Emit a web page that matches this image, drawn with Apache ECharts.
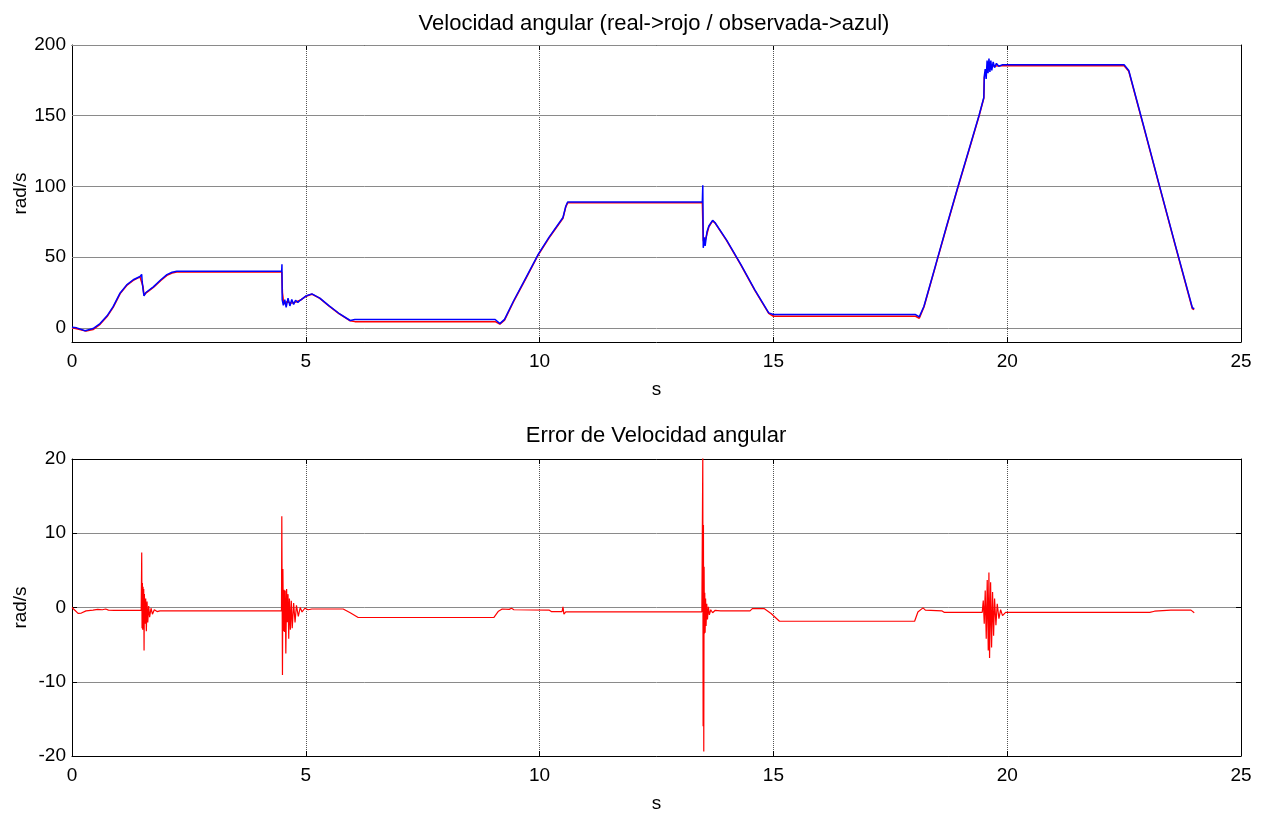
<!DOCTYPE html>
<html><head><meta charset="utf-8">
<script src="https://cdn.jsdelivr.net/npm/echarts@6/dist/echarts.min.js"></script>
<style>html,body{margin:0;padding:0;background:#fff}#c{width:1268px;height:816px}</style>
</head><body><div id="c"></div>
<script>
// ---- data ----
const timeTicks = [0, 5, 10, 15, 20, 25];
const speedTicks = [0, 50, 100, 150, 200];
const speedRange = [-10, 200];
const errorTicks = [-20, -10, 0, 10, 20];

const topTitle = 'Velocidad angular (real->rojo / observada->azul)';
const bottomTitle = 'Error de Velocidad angular';
const xName = 's';
const yName = 'rad/s';

// real angular speed (red) [t, rad/s]
const realSpeed = [
[0,0],[0.1,-0.6],[0.3,-2.3],[0.45,-1.2],[0.6,2.5],[0.75,8],[0.88,14.5],[1.03,24.2],[1.17,30],[1.31,33.6],[1.455,36],[1.49,37.3],[1.52,29],[1.54,23],[1.58,24.6],[1.74,28.6],[1.9,33.5],[2.03,37.1],[2.14,38.8],[2.24,39.5],[4.485,39.5],[4.5,25],[4.53,17],[4.6,18.5],[4.7,17.5],[4.8,18.5],[4.88,19.5],[5.0,22.3],[5.13,23.8],[5.3,20.8],[5.5,15.3],[5.7,10.3],[5.95,5],[6.05,4.4],[9.05,4.4],[9.15,2.6],[9.25,5.5],[9.44,18.3],[9.7,34.5],[9.97,51.5],[10.2,63.5],[10.5,77.5],[10.56,85.5],[10.6,88.4],[13.48,88.4],[13.5,62],[13.52,60],[13.56,64],[13.62,71.5],[13.7,75.6],[13.75,74.2],[14.0,61.7],[14.3,44.7],[14.6,26.7],[14.9,10.3],[15.0,8.2],[18.04,8.2],[18.12,6.8],[18.22,14.7],[18.47,44],[18.7,71],[18.93,97.5],[19.2,127.5],[19.4,150],[19.5,162.3],[19.51,177],[19.55,181],[19.6,184],[19.7,185.2],[19.9,185.3],[22.5,185.3],[22.6,181.4],[22.9,144.4],[23.25,100.8],[23.6,57.5],[23.96,13.5],[24.0,13]
];

// observed angular speed (blue) [t, rad/s]
const observedSpeed = [
[0,0.5],[0.1,0],[0.28,-2],[0.45,-0.5],[0.6,3],[0.75,8.5],[0.88,15],[1.03,24.7],[1.17,30.4],[1.31,34],[1.455,36.3],[1.49,37.8],[1.5,33],[1.52,27],[1.54,22.6],[1.58,25],[1.74,29],[1.9,34],[2.03,37.6],[2.14,39.3],[2.24,40],[4.485,40],[4.49,45],[4.495,20],[4.52,16],[4.55,20],[4.58,14.5],[4.62,21],[4.66,15.5],[4.7,20],[4.74,16.5],[4.78,19.5],[4.83,18],[4.88,19.5],[5.0,22.5],[5.13,24],[5.3,21],[5.5,15.5],[5.7,10.5],[5.95,5.2],[6.05,5.9],[9.05,5.9],[9.15,3],[9.25,6],[9.44,18.8],[9.7,35],[9.97,51.9],[10.2,64],[10.5,78],[10.56,86],[10.6,89],[13.48,89],[13.49,100.8],[13.5,56.6],[13.52,64],[13.54,58],[13.58,68],[13.62,72],[13.7,76],[13.75,74.5],[14.0,62],[14.3,45],[14.6,27],[14.9,10.6],[15.0,9.4],[18.04,9.4],[18.12,7.8],[18.22,15.3],[18.47,44.5],[18.7,71.5],[18.93,98],[19.2,128],[19.4,150.5],[19.5,162.9],[19.51,178],[19.53,183],[19.55,176],[19.57,189],[19.59,180],[19.61,190.5],[19.63,181],[19.65,189],[19.67,182],[19.7,188],[19.73,184],[19.77,187],[19.82,185],[19.9,186],[22.5,186],[22.6,182],[22.9,145],[23.25,101.3],[23.6,58],[23.96,14.2],[24.0,13.5]
];

// speed error (red) [t, rad/s]
const speedError = [
[0,0],[0.05,-0.3],[0.13,-0.8],[0.2,-0.75],[0.3,-0.45],[0.45,-0.35],[0.55,-0.25],[0.65,-0.3],[0.72,-0.2],[0.78,-0.35],[0.9,-0.4],[1.48,-0.4],
[1.491,7.4],[1.498,-2.8],[1.505,3.3],[1.512,-3],[1.52,2.8],[1.527,-2.5],[1.534,2.5],[1.541,-5.8],[1.548,1.8],[1.562,-2.2],[1.576,1.2],[1.59,-3.2],[1.605,0.8],[1.62,-2],[1.64,0.2],[1.66,-1.3],[1.69,-0.1],[1.72,-0.9],[1.76,-0.3],[1.82,-0.55],[1.88,-0.45],
[4.48,-0.45],
[4.487,12.3],[4.501,-9.1],[4.51,5.2],[4.522,-3.2],[4.535,2.4],[4.548,-3.3],[4.56,2.3],[4.573,-6.2],[4.59,2.5],[4.605,-2],[4.62,1.8],[4.635,-4.2],[4.65,1.2],[4.67,-3],[4.69,0.9],[4.71,-2.8],[4.74,0.6],[4.77,-2],[4.8,0.3],[4.84,-1.2],[4.88,0],[4.92,-0.6],[4.98,-0.1],[5.05,-0.3],[5.13,-0.2],[5.8,-0.2],[5.95,-0.7],[6.12,-1.35],
[9.02,-1.35],[9.04,-1.45],[9.12,-0.5],[9.2,-0.2],[9.35,-0.25],[9.4,-0.1],[9.45,-0.3],[10.2,-0.35],[10.25,-0.55],[10.48,-0.55],[10.5,0.1],[10.52,-0.9],[10.54,-0.7],[10.56,-0.6],[13.47,-0.58],
[13.49,20.5],[13.497,-16],[13.504,11.1],[13.511,-19.4],[13.518,5.5],[13.525,-3.5],[13.532,2],[13.54,-3.4],[13.55,1.2],[13.56,-2.5],[13.575,0.5],[13.59,-1.6],[13.61,0.1],[13.63,-1],[13.66,-0.3],[13.7,-0.7],[13.75,-0.4],[13.87,-0.45],[14.5,-0.45],[14.55,-0.15],[14.8,-0.15],[14.95,-0.8],[15.13,-1.85],
[18.02,-1.85],[18.09,-0.6],[18.2,-0.05],[18.25,-0.35],[18.6,-0.45],[18.65,-0.65],
[19.466,-0.65],[19.488,0.95],[19.509,-2.2],[19.53,2.3],[19.552,-4.2],[19.573,3.7],[19.595,-5.8],[19.609,4.7],[19.623,-6.8],[19.645,3.4],[19.666,-5.4],[19.687,2.1],[19.709,-3.8],[19.73,1.2],[19.759,-2.4],[19.787,0.5],[19.823,-1.5],[19.859,-0.3],[19.9,-1.1],[19.966,-0.65],
[22.52,-0.65],[22.54,-0.5],[22.56,-0.65],[23.05,-0.65],[23.15,-0.5],[23.5,-0.35],[23.93,-0.35],[24.0,-0.7]
];

// ---- chart ----
const FONT = '"Liberation Sans", Arial, Helvetica, sans-serif';
const TXT = {fontFamily: FONT, fontSize: 19, color: '#000'};
const TITLE_TXT = {fontFamily: FONT, fontSize: 22, fontWeight: 'normal', color: '#000'};
const xMin = timeTicks[0], xMax = timeTicks[timeTicks.length - 1], xStep = timeTicks[1] - timeTicks[0];
const eMin = errorTicks[0], eMax = errorTicks[errorTicks.length - 1], eStep = errorTicks[1] - errorTicks[0];
const boxLine = {show: true, onZero: false, lineStyle: {color: '#000', width: 1}};
const tick = {show: true, inside: true, length: 5, lineStyle: {color: '#000', width: 1}};

function xAxes(gi) {
  return [
    {type: 'value', gridIndex: gi, position: 'bottom', min: xMin, max: xMax, interval: xStep,
     name: xName, nameLocation: 'middle', nameGap: 38, nameTextStyle: TXT, nameMoveOverlap: false,
     axisLine: boxLine, axisTick: tick,
     axisLabel: Object.assign({show: true, margin: 10, showMinLabel: true, showMaxLabel: true}, TXT),
     splitLine: {show: true, lineStyle: {color: '#555', type: 'dotted', width: 1}}},
    {type: 'value', gridIndex: gi, position: 'top', min: xMin, max: xMax, interval: xStep,
     axisLine: boxLine, axisTick: tick, axisLabel: {show: false}, splitLine: {show: false}}
  ];
}

const option = {
  animation: false,
  backgroundColor: '#fff',
  title: [
    {text: topTitle, left: 649, top: 8, textAlign: 'center', textStyle: TITLE_TXT},
    {text: bottomTitle, left: 651, top: 420, textAlign: 'center', textStyle: TITLE_TXT}
  ],
  grid: [
    {left: 72, top: 45, width: 1169, height: 297, containLabel: false, outerBoundsMode: 'none'},
    {left: 72, top: 459, width: 1169, height: 297, containLabel: false, outerBoundsMode: 'none'}
  ],
  xAxis: xAxes(0).concat(xAxes(1)),
  yAxis: [
    {type: 'value', gridIndex: 0, position: 'left', min: speedRange[0], max: speedRange[1],
     name: yName, nameLocation: 'middle', nameGap: 42, nameTextStyle: TXT, nameMoveOverlap: false,
     axisLine: boxLine,
     axisTick: Object.assign({customValues: speedTicks}, tick),
     axisLabel: Object.assign({show: true, margin: 6, customValues: speedTicks}, TXT),
     splitLine: {show: false}},
    {type: 'value', gridIndex: 0, position: 'right', min: speedRange[0], max: speedRange[1],
     axisLine: boxLine,
     axisTick: Object.assign({customValues: speedTicks}, tick),
     axisLabel: {show: false}, splitLine: {show: false}},
    {type: 'value', gridIndex: 1, position: 'left', min: eMin, max: eMax, interval: eStep,
     name: yName, nameLocation: 'middle', nameGap: 42, nameTextStyle: TXT, nameMoveOverlap: false,
     axisLine: boxLine, axisTick: tick,
     axisLabel: Object.assign({show: true, margin: 6, showMinLabel: true, showMaxLabel: true}, TXT),
     splitLine: {show: true, lineStyle: {color: '#8a8a8a', type: 'solid', width: 1}}},
    {type: 'value', gridIndex: 1, position: 'right', min: eMin, max: eMax, interval: eStep,
     axisLine: boxLine, axisTick: tick, axisLabel: {show: false}, splitLine: {show: false}}
  ],
  series: [
    {type: 'line', name: 'real', xAxisIndex: 0, yAxisIndex: 0, data: realSpeed,
     showSymbol: false, symbol: 'none', z: 2,
     lineStyle: {color: '#ff0000', width: 1.5}, itemStyle: {color: '#ff0000'},
     markLine: {silent: true, symbol: 'none', z: 1, animation: false,
       label: {show: false}, emphasis: {disabled: true},
       lineStyle: {color: '#8a8a8a', type: 'solid', width: 1},
       data: speedTicks.map(v => ({yAxis: v}))}},
    {type: 'line', name: 'observada', xAxisIndex: 0, yAxisIndex: 0, data: observedSpeed,
     showSymbol: false, symbol: 'none', z: 3,
     lineStyle: {color: '#0000ff', width: 1.5}, itemStyle: {color: '#0000ff'}},
    {type: 'line', name: 'error', xAxisIndex: 2, yAxisIndex: 2, data: speedError,
     showSymbol: false, symbol: 'none', z: 3,
     lineStyle: {color: '#ff0000', width: 1.2}, itemStyle: {color: '#ff0000'}}
  ]
};
const chart = echarts.init(document.getElementById('c'), null, {renderer: 'canvas'});
chart.setOption(option);
</script>
</body></html>
